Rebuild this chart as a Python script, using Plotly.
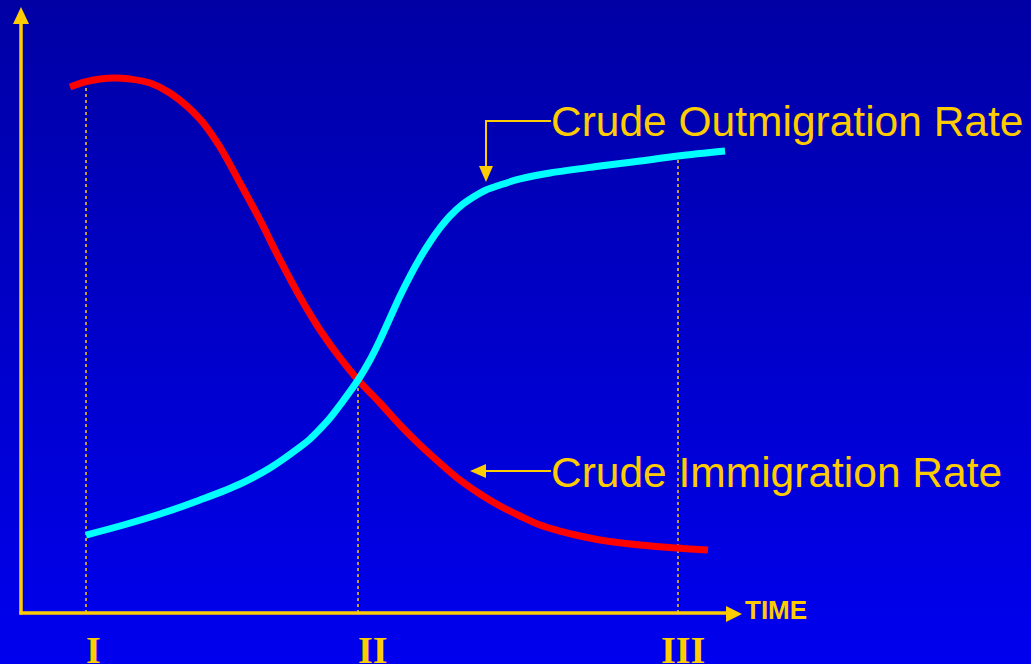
import plotly.graph_objects as go

# ---- data (time units 0..100, rate units 0..100) ----
immig_time = [6.81, 8.89, 10.97, 13.06, 15.14, 17.92, 20.69, 24.86, 27.64, 30.42, 33.19,
              35.97, 38.75, 41.53, 44.31, 46.81, 49.86, 52.64, 55.42, 58.19, 60.97, 63.75,
              66.53, 69.31, 72.08, 74.86, 77.64, 80.42, 85.97, 91.11, 95.42]
immig_rate = [86.94, 87.77, 88.26, 88.43, 88.26, 87.60, 85.95, 81.65, 77.02, 71.07, 64.96,
              58.35, 52.23, 46.78, 42.15, 38.51, 34.71, 31.07, 27.77, 24.79, 21.98, 19.67,
              17.69, 16.03, 14.55, 13.55, 12.73, 12.07, 11.24, 10.74, 10.41]

outmig_time = [9.03, 13.75, 19.31, 24.86, 30.42, 34.58, 38.75, 40.14, 41.53, 42.92, 44.31, 46.81,
               48.47, 49.86, 51.25, 52.64, 54.03, 55.42, 56.81, 58.19, 59.58, 61.39, 63.06,
               64.58, 66.53, 69.31, 73.47, 80.42, 85.97, 91.25, 97.78]
outmig_rate = [12.89, 14.38, 16.36, 18.68, 21.32, 23.97, 27.44, 28.76, 30.41, 32.23, 34.38, 38.51,
               41.82, 45.12, 48.76, 52.40, 55.70, 58.68, 61.32, 63.64, 65.62, 67.60, 68.93,
               69.92, 70.74, 71.74, 72.73, 73.88, 74.71, 75.54, 76.36]

stage_labels = ["I", "II", "III"]
stage_times = [9.03, 46.81, 91.25]
stage_tops = [86.8, 38.5, 75.5]
stage_label_x = [10.0, 48.9, 91.9]

series_names = ["Crude Outmigration Rate", "Crude Immigration Rate"]
axis_label = "TIME"

# ---- styling ----
YEL = "#FFCC00"
DOT = "#D8A830"
W, H = 1031, 664
# pixel mapping: px = 21 + 7.2*t ; py = 613 - 6.05*r
SX, SY = 7.2, 6.05
XR = [-21 / SX, (W - 21) / SX]
YR = [-(H - 613) / SY, 613 / SY]

def tx(px):
    return (px - 21) / SX

def ry(py):
    return (613 - py) / SY

fig = go.Figure()

# dotted stage lines
for t, top in zip(stage_times, stage_tops):
    fig.add_trace(go.Scatter(x=[t, t], y=[0, top], mode="lines",
                             line=dict(color=DOT, width=1.8, dash="dot"),
                             hoverinfo="skip", showlegend=False))

fig.add_trace(go.Scatter(x=immig_time, y=immig_rate, mode="lines", name=series_names[1],
                         line=dict(color="#FF0000", width=7, shape="spline", smoothing=1.0),
                         showlegend=False))
fig.add_trace(go.Scatter(x=outmig_time, y=outmig_rate, mode="lines", name=series_names[0],
                         line=dict(color="#00FFFF", width=7, shape="spline", smoothing=1.0),
                         showlegend=False))

shapes = []
# gradient background bands
N = 83
for i in range(N):
    f = i / (N - 1)
    b = int(round(165 + (238 - 165) * f))
    y1 = 1 - i / N
    y0 = 1 - (i + 1) / N - 0.002
    shapes.append(dict(type="rect", xref="paper", yref="paper", x0=0, x1=1, y0=max(y0, 0), y1=y1,
                       fillcolor=f"rgb(0,0,{b})", line=dict(width=0), layer="below"))

# axes
shapes.append(dict(type="line", xref="x", yref="y", x0=0, x1=0, y0=-0.25, y1=ry(22),
                   line=dict(color=YEL, width=3.5), layer="above"))
shapes.append(dict(type="line", xref="x", yref="y", x0=tx(19.5), x1=tx(728), y0=0, y1=0,
                   line=dict(color=YEL, width=3.5), layer="above"))
shapes.append(dict(type="path", xref="x", yref="y",
                   path=f"M {tx(13)} {ry(24)} L {tx(29)} {ry(24)} L {tx(21)} {ry(7)} Z",
                   fillcolor=YEL, line=dict(width=0), layer="above"))
shapes.append(dict(type="path", xref="x", yref="y",
                   path=f"M {tx(726)} {ry(606)} L {tx(726)} {ry(622)} L {tx(742)} {ry(614)} Z",
                   fillcolor=YEL, line=dict(width=0), layer="above"))

# outmigration pointer
shapes.append(dict(type="path", xref="x", yref="y",
                   path=f"M {tx(551)} {ry(121)} L {tx(486)} {ry(121)} L {tx(486)} {ry(166)}",
                   line=dict(color=YEL, width=2), layer="above"))
shapes.append(dict(type="path", xref="x", yref="y",
                   path=f"M {tx(479)} {ry(166)} L {tx(493)} {ry(166)} L {tx(486)} {ry(182)} Z",
                   fillcolor=YEL, line=dict(width=0), layer="above"))
# immigration pointer
shapes.append(dict(type="line", xref="x", yref="y", x0=tx(484), x1=tx(551), y0=ry(471), y1=ry(471),
                   line=dict(color=YEL, width=2), layer="above"))
shapes.append(dict(type="path", xref="x", yref="y",
                   path=f"M {tx(486)} {ry(464)} L {tx(486)} {ry(478)} L {tx(470)} {ry(471)} Z",
                   fillcolor=YEL, line=dict(width=0), layer="above"))

annotations = [
    dict(x=tx(549), y=ry(121), xref="x", yref="y", text=series_names[0], showarrow=False,
         xanchor="left", yanchor="middle",
         font=dict(family="Liberation Sans, Arial", size=42.5, color=YEL)),
    dict(x=tx(549), y=ry(472), xref="x", yref="y", text=series_names[1], showarrow=False,
         xanchor="left", yanchor="middle",
         font=dict(family="Liberation Sans, Arial", size=42.5, color=YEL)),
    dict(x=tx(743), y=ry(610), xref="x", yref="y", text=f"<b>{axis_label}</b>", showarrow=False,
         xanchor="left", yanchor="middle",
         font=dict(family="Liberation Sans, Arial", size=26, color=YEL)),
]
for lab, lx in zip(stage_labels, stage_label_x):
    annotations.append(dict(x=lx, y=ry(650), xref="x", yref="y", text=f"<b>{lab}</b>",
                            showarrow=False, xanchor="center", yanchor="middle",
                            font=dict(family="Liberation Serif, Times New Roman", size=38, color=YEL)))

fig.update_layout(
    width=W, height=H,
    margin=dict(l=0, r=0, t=0, b=0),
    paper_bgcolor="rgb(0,0,200)",
    plot_bgcolor="rgba(0,0,0,0)",
    xaxis=dict(range=XR, visible=False, fixedrange=True),
    yaxis=dict(range=YR, visible=False, fixedrange=True),
    shapes=shapes,
    annotations=annotations,
    showlegend=False,
)

fig.write_html("out.html", config={"displayModeBar": False},
               post_script="document.body.style.margin='0';document.body.style.overflow='hidden';")
